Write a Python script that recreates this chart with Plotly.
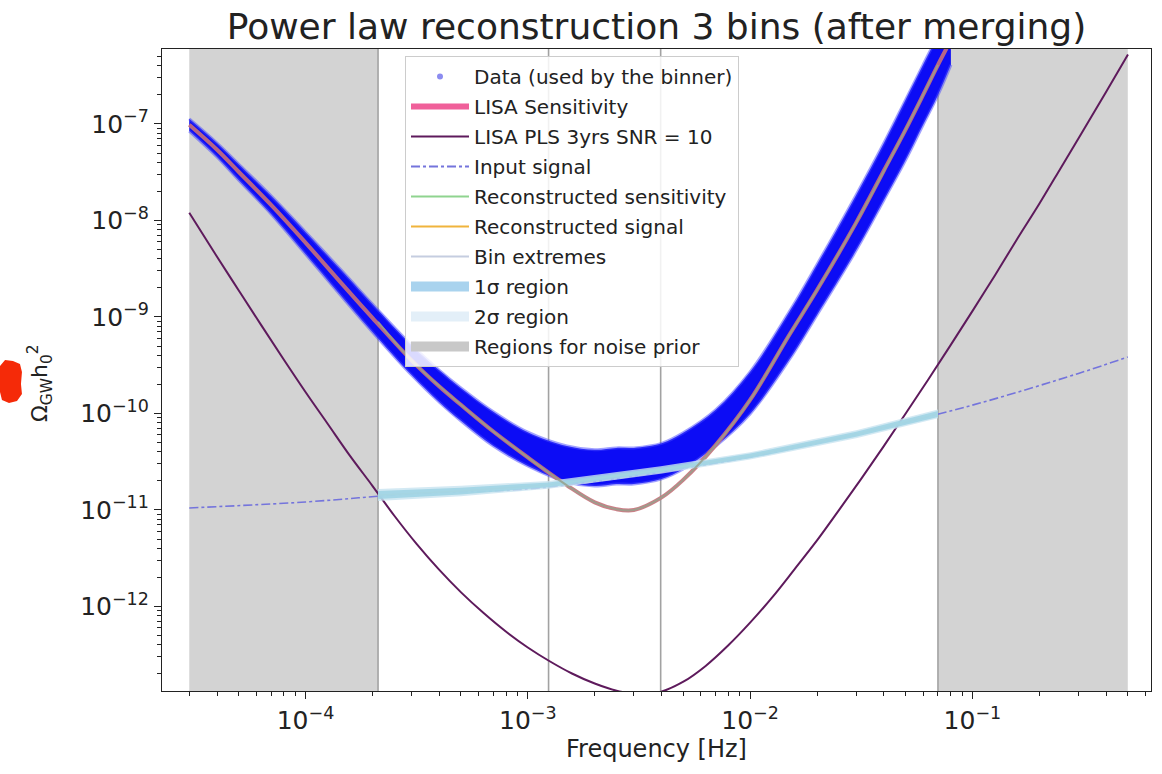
import math
import plotly.graph_objects as go

# ------------------------------------------------------------------
# Values (frequency in Hz, Omega_GW h^2)
# ------------------------------------------------------------------
freq_sens = [3e-5, 4e-5, 5e-5, 7e-5, 1e-4, 1.5e-4, 2e-4, 3e-4, 4e-4, 5e-4, 7e-4,
             1e-3, 1.5e-3, 2e-3, 2.5e-3, 3e-3, 4e-3, 5e-3, 7e-3, 1e-2, 1.5e-2,
             2e-2, 3e-2, 4e-2, 5e-2, 6e-2, 7e-2, 8e-2, 0.1]
omega_sens = [9.8e-8, 5.4e-8, 3.2e-8, 1.45e-8, 5.9e-9, 2.05e-9, 9.8e-10, 3.55e-10,
              1.9e-10, 1.23e-10, 6.5e-11, 3.5e-11, 1.8e-11, 1.2e-11, 1.02e-11,
              1.0e-11, 1.35e-11, 2.05e-11, 4.7e-11, 1.38e-10, 6.5e-10, 1.9e-9,
              9.5e-9, 3.3e-8, 8.7e-8, 2.0e-7, 4.1e-7, 7.4e-7, 2.0e-6]

# binner data: upper / lower envelope of the scattered points
freq_data = [3e-5, 4e-5, 5e-5, 7e-5, 1e-4, 1.5e-4, 2e-4, 3e-4, 4e-4, 5e-4, 7e-4,
             1e-3, 1.5e-3, 2e-3, 2.5e-3, 3e-3, 4e-3, 5e-3, 7e-3, 1e-2, 1.5e-2,
             2e-2, 3e-2, 4e-2, 5e-2, 6e-2, 7e-2, 8e-2]
data_upper = [1.13e-7, 6.35e-8, 3.85e-8, 1.8e-8, 7.6e-9, 2.8e-9, 1.36e-9, 5.1e-10,
              2.8e-10, 1.84e-10, 1.04e-10, 6.4e-11, 4.6e-11, 4.2e-11, 4.4e-11,
              4.4e-11, 4.9e-11, 6.3e-11, 1.09e-10, 2.7e-10, 1.13e-9, 3.5e-9,
              1.84e-8, 6.35e-8, 1.77e-7, 4.1e-7, 8.4e-7, 1.7e-6]
data_lower = [8.45e-8, 4.55e-8, 2.63e-8, 1.17e-8, 4.5e-9, 1.5e-9, 7.0e-10, 2.5e-10,
              1.31e-10, 8.4e-11, 4.6e-11, 2.86e-11, 1.95e-11, 1.77e-11, 1.86e-11,
              1.86e-11, 2.1e-11, 2.66e-11, 4.6e-11, 9.9e-11, 3.6e-10, 1.05e-9,
              4.9e-9, 1.63e-8, 4.2e-8, 9.8e-8, 2.0e-7, 4.1e-7]

# power-law integrated sensitivity, 3 yrs, SNR = 10
freq_pls = [3.0e-5, 3.98e-5, 5.01e-5, 6.31e-5, 7.94e-5,
            1.0e-4, 1.26e-4, 1.58e-4, 2.0e-4, 2.51e-4, 3.16e-4, 3.98e-4, 5.01e-4, 6.31e-4, 7.94e-4,
            1.0e-3, 1.26e-3, 1.58e-3, 2.0e-3, 2.51e-3, 3.16e-3, 3.98e-3, 5.01e-3, 6.31e-3, 7.94e-3,
            1.0e-2, 1.26e-2, 1.58e-2, 2.0e-2, 2.51e-2, 3.16e-2, 3.98e-2, 5.01e-2, 6.31e-2, 7.94e-2,
            0.1, 0.126, 0.158, 0.2, 0.251, 0.316, 0.398, 0.501]
omega_pls = [1.2e-8, 4.29e-9, 1.88e-9, 8.28e-10, 3.69e-10,
             1.67e-10, 7.78e-11, 3.68e-11, 1.78e-11, 8.71e-12, 4.45e-12, 2.42e-12, 1.40e-12,
             8.59e-13, 5.53e-13,
             3.76e-13, 2.69e-13, 2.02e-13, 1.59e-13, 1.34e-13, 1.23e-13, 1.31e-13, 1.66e-13,
             2.42e-13, 3.91e-13,
             6.79e-13, 1.25e-12, 2.41e-12, 4.83e-12, 9.95e-12, 2.10e-11, 4.53e-11, 9.98e-11,
             2.22e-10, 5.02e-10,
             1.15e-9, 2.68e-9, 6.28e-9, 1.49e-8, 3.57e-8, 8.67e-8, 2.12e-7, 5.26e-7]

# injected signal
freq_input = [3e-5, 1e-4, 3e-4, 1e-3, 3e-3, 1e-2, 3e-2, 0.1, 0.3, 0.5]
omega_input = [1.05e-11, 1.21e-11, 1.47e-11, 1.65e-11, 2.25e-11, 3.54e-11,
               6.1e-11, 1.22e-10, 2.6e-10, 3.85e-10]

# reconstruction (inside the binned range)
freq_rec = [2.12e-4, 5e-4, 1.24e-3, 3.96e-3, 1e-2, 3e-2, 7e-2]
omega_rec = [1.43e-11, 1.57e-11, 1.82e-11, 2.6e-11, 3.63e-11, 6.1e-11, 9.9e-11]
rec_1s_upper = [1.57e-11, 1.70e-11, 1.93e-11, 2.74e-11, 3.84e-11, 6.47e-11, 1.06e-10]
rec_1s_lower = [1.30e-11, 1.45e-11, 1.72e-11, 2.46e-11, 3.43e-11, 5.75e-11, 9.2e-11]
rec_2s_upper = [1.65e-11, 1.78e-11, 2.0e-11, 2.83e-11, 3.96e-11, 6.7e-11, 1.1e-10]
rec_2s_lower = [1.24e-11, 1.39e-11, 1.66e-11, 2.38e-11, 3.33e-11, 5.55e-11, 8.9e-11]

freq_rec_sens = [2.12e-4, 3e-4, 5e-4, 7e-4, 1e-3, 1.5e-3, 2e-3, 2.5e-3, 3e-3,
                 4e-3, 5e-3, 7e-3, 1e-2, 1.5e-2, 2e-2, 3e-2, 5e-2, 7e-2]
omega_rec_sens = [8.9e-10, 3.55e-10, 1.23e-10, 6.5e-11, 3.5e-11, 1.8e-11, 1.2e-11,
                  1.02e-11, 1.0e-11, 1.35e-11, 2.05e-11, 4.7e-11, 1.38e-10, 6.5e-10,
                  1.9e-9, 9.5e-9, 8.7e-8, 4.1e-7]

bin_edges = [2.12e-4, 1.24e-3, 3.96e-3, 7.0e-2]
noise_prior_regions = [(3e-5, 2.12e-4), (7.0e-2, 0.5)]

x_ticks = [1e-4, 1e-3, 1e-2, 1e-1]
y_ticks = [1e-12, 1e-11, 1e-10, 1e-9, 1e-8, 1e-7]

# ------------------------------------------------------------------
FONT = "DejaVu Sans"
C_DATA = "rgb(12,12,245)"
C_SENS = "#f0609a"
C_PLS = "#5e1a5c"
C_INPUT = "#7474dc"
C_REC_SENS = "#8fd48f"
C_REC_SIG = "#f0b43c"
C_BINS = "#c5cde0"
C_1S = "#a9d3ee"
C_2S = "#e3eff8"
C_NOISE = "#d3d3d3"

X_RANGE = [-4.6455, -0.1966]
Y_RANGE = [-12.876, -6.223]


def sup(n):
    return "10<sup>\u2212%d</sup>" % n


def x_dom(f):
    """Position of a frequency as a fraction of the x axis length."""
    return (math.log10(f) - X_RANGE[0]) / (X_RANGE[1] - X_RANGE[0])


fig = go.Figure()

# binned data envelope
fig.add_trace(go.Scatter(x=freq_data, y=data_lower, mode="lines",
                         line=dict(color="rgba(70,70,255,0.5)", width=3, shape="spline"),
                         showlegend=False, hoverinfo="skip"))
fig.add_trace(go.Scatter(x=freq_data, y=data_upper, mode="lines", fill="tonexty",
                         fillcolor=C_DATA,
                         line=dict(color="rgba(70,70,255,0.5)", width=3, shape="spline"),
                         showlegend=False, hoverinfo="skip"))

# LISA sensitivity
fig.add_trace(go.Scatter(x=freq_sens, y=omega_sens, mode="lines",
                         line=dict(color="rgba(200,112,122,0.9)", width=4, shape="spline"),
                         showlegend=False))

# PLS
fig.add_trace(go.Scatter(x=freq_pls, y=omega_pls, mode="lines",
                         line=dict(color=C_PLS, width=2, shape="spline"),
                         showlegend=False))

# input signal
fig.add_trace(go.Scatter(x=freq_input, y=omega_input, mode="lines",
                         line=dict(color=C_INPUT, width=1.6, dash="dashdot", shape="spline"),
                         showlegend=False))

# reconstructed signal and its uncertainty regions
fig.add_trace(go.Scatter(x=freq_rec, y=omega_rec, mode="lines",
                         line=dict(color=C_REC_SIG, width=1.5), showlegend=False))
fig.add_trace(go.Scatter(x=freq_rec, y=rec_2s_lower, mode="lines",
                         line=dict(width=0, color=C_2S), showlegend=False))
fig.add_trace(go.Scatter(x=freq_rec, y=rec_2s_upper, mode="lines", fill="tonexty",
                         fillcolor="rgba(200,228,240,0.8)",
                         line=dict(width=0, color=C_2S), showlegend=False))
fig.add_trace(go.Scatter(x=freq_rec, y=rec_1s_lower, mode="lines",
                         line=dict(width=0, color=C_1S), showlegend=False))
fig.add_trace(go.Scatter(x=freq_rec, y=rec_1s_upper, mode="lines", fill="tonexty",
                         fillcolor="rgba(160,212,228,0.9)",
                         line=dict(width=0, color=C_1S), showlegend=False))

# reconstructed sensitivity
fig.add_trace(go.Scatter(x=freq_rec_sens, y=omega_rec_sens, mode="lines",
                         line=dict(color="rgba(150,160,140,0.85)", width=2, shape="spline"),
                         showlegend=False))

# legend entries
none = [None]
legend_items = [
    dict(name="Data (used by the binner)", mode="markers",
         marker=dict(color="#8c8cf0", size=6)),
    dict(name="LISA Sensitivity", mode="lines", line=dict(color=C_SENS, width=6)),
    dict(name="LISA PLS 3yrs SNR = 10", mode="lines", line=dict(color=C_PLS, width=2)),
    dict(name="Input signal", mode="lines", line=dict(color=C_INPUT, width=2, dash="dashdot")),
    dict(name="Reconstructed sensitivity", mode="lines", line=dict(color=C_REC_SENS, width=2)),
    dict(name="Reconstructed signal", mode="lines", line=dict(color=C_REC_SIG, width=2)),
    dict(name="Bin extremes", mode="lines", line=dict(color=C_BINS, width=2)),
    dict(name="1\u03c3 region", mode="lines", line=dict(width=14, color=C_1S)),
    dict(name="2\u03c3 region", mode="lines", line=dict(width=14, color=C_2S)),
    dict(name="Regions for noise prior", mode="lines", line=dict(width=14, color="#c8c8c8")),
]
for item in legend_items:
    fig.add_trace(go.Scatter(x=none, y=none, legendgroup=item["name"], **item))

# noise prior regions and bin extremes
shapes = []
for f0, f1 in noise_prior_regions:
    shapes.append(dict(type="rect", xref="x domain", yref="y domain",
                       x0=x_dom(f0), x1=x_dom(f1), y0=0, y1=1,
                       fillcolor=C_NOISE, line=dict(width=0), layer="below"))
for fb in bin_edges:
    shapes.append(dict(type="line", xref="x domain", yref="y domain",
                       x0=x_dom(fb), x1=x_dom(fb), y0=0, y1=1,
                       line=dict(color="#a2a2a2", width=1.6), layer="below"))

# red mark at the left edge
PL, PR, PT, PB = 162, 1151, 49, 691
blob_px = [(0, 366), (5, 360), (13, 361), (20, 364), (22, 372), (21, 384), (22, 394),
           (17, 401), (9, 403), (2, 400), (0, 392)]
path = "M " + " L ".join("%.4f,%.4f" % ((px - PL) / (PR - PL), (PB - py) / (PB - PT))
                          for px, py in blob_px) + " Z"
shapes.append(dict(type="path", xref="paper", yref="paper", path=path,
                   fillcolor="#f52a08", line=dict(width=0), layer="above"))


def minor_vals(lo, hi):
    vals = []
    for e in range(lo, hi):
        for k in range(2, 10):
            vals.append(k * 10.0 ** e)
    return vals


axis_common = dict(
    type="log", showgrid=False, zeroline=False,
    showline=True, linecolor="#222", linewidth=1.2, mirror=True,
    ticks="outside", ticklen=7, tickwidth=1.2, tickcolor="#222",
    tickfont=dict(family=FONT, size=25, color="#222"),
)

fig.update_layout(
    width=1162, height=774,
    margin=dict(l=PL, r=1162 - PR, t=PT, b=774 - PB),
    paper_bgcolor="white", plot_bgcolor="white",
    font=dict(family=FONT, color="#222"),
    title=dict(text="Power law reconstruction 3 bins (after merging)",
               x=0.5, xref="paper", xanchor="center",
               y=1 - 26 / 774, yref="container", yanchor="middle",
               font=dict(family=FONT, size=36, color="#222")),
    xaxis=dict(**axis_common, range=X_RANGE,
               tickvals=x_ticks, ticktext=[sup(4), sup(3), sup(2), sup(1)],
               minor=dict(tickvals=minor_vals(-5, 0), ticks="outside", ticklen=4,
                          tickwidth=1, tickcolor="#222"),
               title=dict(text="Frequency [Hz]", standoff=6,
                          font=dict(family=FONT, size=24, color="#222"))),
    yaxis=dict(**axis_common, range=Y_RANGE,
               tickvals=y_ticks, ticktext=[sup(12), sup(11), sup(10), sup(9), sup(8), sup(7)],
               minor=dict(tickvals=minor_vals(-13, -6), ticks="outside", ticklen=4,
                          tickwidth=1, tickcolor="#222")),
    legend=dict(x=(405 - PL) / (PR - PL), y=1 - (56 - PT) / (PB - PT),
                xanchor="left", yanchor="top",
                bgcolor="rgba(255,255,255,0.85)", bordercolor="#cccccc", borderwidth=1,
                font=dict(family=FONT, size=20, color="#222"),
                itemwidth=58, tracegroupgap=1, traceorder="grouped"),
    shapes=shapes,
    annotations=[dict(text="\u03a9<sub>GW</sub>h<sub>0</sub><sup>2</sup>",
                      xref="paper", yref="paper",
                      x=(40 - PL) / (PR - PL), y=(PB - 383) / (PB - PT),
                      xanchor="center", yanchor="middle", textangle=-90, showarrow=False,
                      font=dict(family=FONT, size=22, color="#222"))],
)

fig.write_html("out.html")
